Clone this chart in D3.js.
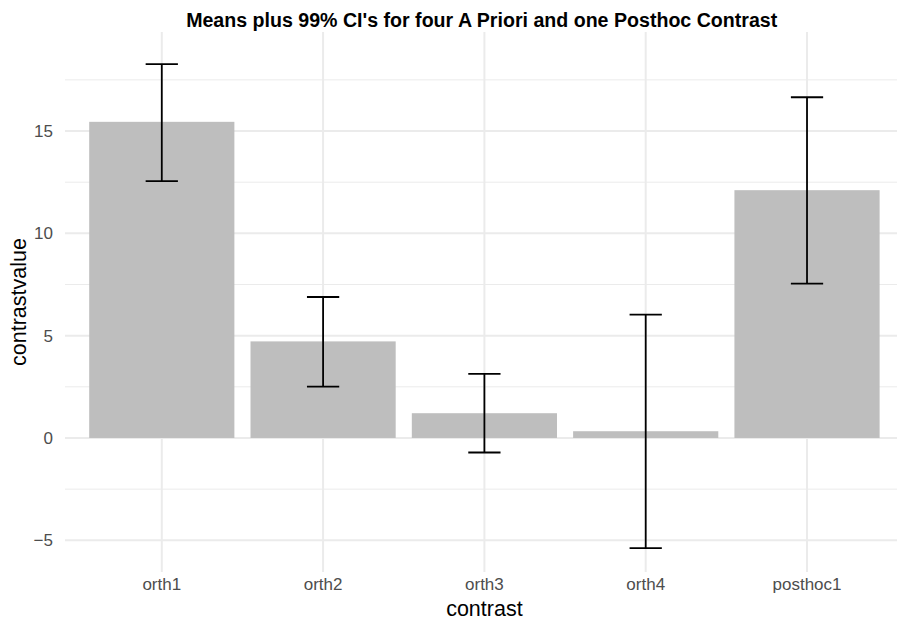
<!DOCTYPE html>
<html>
<head>
<meta charset="utf-8">
<script src="https://cdn.jsdelivr.net/npm/d3@7"></script>
<style>
  html, body { margin: 0; padding: 0; background: #ffffff; }
  svg { display: block; font-family: "Liberation Sans", Arial, Helvetica, sans-serif; }
</style>
</head>
<body>
<svg id="chart" width="897" height="621"></svg>
<script>
// Contrast estimates with 99% confidence limits
const contrasts = ["orth1", "orth2", "orth3", "orth4", "posthoc1"];
const means     = [15.45, 4.72, 1.21, 0.33, 12.11];
const lowerCI   = [12.55, 2.51, -0.71, -5.38, 7.54];
const upperCI   = [18.27, 6.89, 3.13, 6.03, 16.65];
const majorTicks = [-5, 0, 5, 10, 15];
const minorTicks = [-2.5, 2.5, 7.5, 12.5, 17.5];

const rows = contrasts.map((c, i) => ({ c, mean: means[i], lo: lowerCI[i], hi: upperCI[i] }));

const svg = d3.select("#chart");
const panel = { left: 65, right: 903.8, top: 32, bottom: 572 };

const x = d3.scaleBand()
  .domain(contrasts)
  .range([panel.left, panel.right])
  .paddingInner(0.1)
  .paddingOuter(0.15);

const y = d3.scaleLinear()
  .domain([-6.55, 19.84])
  .range([panel.bottom, panel.top]);

const gridColor = "#ebebeb";
const grid = svg.append("g");

// minor horizontal grid
grid.selectAll("line.minor").data(minorTicks).join("line")
  .attr("x1", panel.left).attr("x2", panel.right)
  .attr("y1", d => y(d)).attr("y2", d => y(d))
  .attr("stroke", gridColor).attr("stroke-width", 1);

// major horizontal grid
grid.selectAll("line.majorY").data(majorTicks).join("line")
  .attr("x1", panel.left).attr("x2", panel.right)
  .attr("y1", d => y(d)).attr("y2", d => y(d))
  .attr("stroke", gridColor).attr("stroke-width", 2);

// major vertical grid at each contrast
grid.selectAll("line.majorX").data(contrasts).join("line")
  .attr("x1", d => x(d) + x.bandwidth() / 2).attr("x2", d => x(d) + x.bandwidth() / 2)
  .attr("y1", panel.top).attr("y2", panel.bottom)
  .attr("stroke", gridColor).attr("stroke-width", 2);

// bars
svg.append("g").selectAll("rect").data(rows).join("rect")
  .attr("x", d => x(d.c))
  .attr("width", x.bandwidth())
  .attr("y", d => y(Math.max(0, d.mean)))
  .attr("height", d => Math.abs(y(d.mean) - y(0)))
  .attr("fill", "#bebebe");

// error bars
const capHalf = x.step() * 0.1;
const eb = svg.append("g").attr("stroke", "#000").attr("stroke-width", 1.8).attr("fill", "none");
rows.forEach(d => {
  const cx = x(d.c) + x.bandwidth() / 2;
  eb.append("line").attr("x1", cx).attr("x2", cx).attr("y1", y(d.lo)).attr("y2", y(d.hi));
  eb.append("line").attr("x1", cx - capHalf).attr("x2", cx + capHalf).attr("y1", y(d.hi)).attr("y2", y(d.hi));
  eb.append("line").attr("x1", cx - capHalf).attr("x2", cx + capHalf).attr("y1", y(d.lo)).attr("y2", y(d.lo));
});

// y axis tick labels
const yAxis = svg.append("g")
  .attr("transform", `translate(${panel.left - 4},0)`)
  .call(d3.axisLeft(y).tickValues(majorTicks).tickSize(0).tickPadding(8)
    .tickFormat(d => d < 0 ? "\u2212" + Math.abs(d) : String(d)));
yAxis.select(".domain").remove();
yAxis.selectAll("text").attr("fill", "#4d4d4d").attr("font-size", 17)
  .attr("font-family", "Liberation Sans, Arial, sans-serif");

// x axis tick labels
const xAxis = svg.append("g")
  .attr("transform", `translate(0,${panel.bottom})`)
  .call(d3.axisBottom(x).tickSize(0).tickPadding(6));
xAxis.select(".domain").remove();
xAxis.selectAll("text").attr("fill", "#4d4d4d").attr("font-size", 17)
  .attr("font-family", "Liberation Sans, Arial, sans-serif");

// axis titles
svg.append("text")
  .attr("x", (panel.left + panel.right) / 2).attr("y", 616)
  .attr("text-anchor", "middle").attr("font-size", 21.5).attr("fill", "#000")
  .text("contrast");

svg.append("text")
  .attr("transform", `translate(25.5,${(panel.top + panel.bottom) / 2}) rotate(-90)`)
  .attr("text-anchor", "middle").attr("font-size", 21.5).attr("fill", "#000")
  .text("contrastvalue");

// title
svg.append("text")
  .attr("x", 481.7).attr("y", 26.5)
  .attr("text-anchor", "middle").attr("font-size", 19.6).attr("font-weight", "bold").attr("fill", "#000")
  .text("Means plus 99% CI's for four A Priori and one Posthoc Contrast");
</script>
</body>
</html>
